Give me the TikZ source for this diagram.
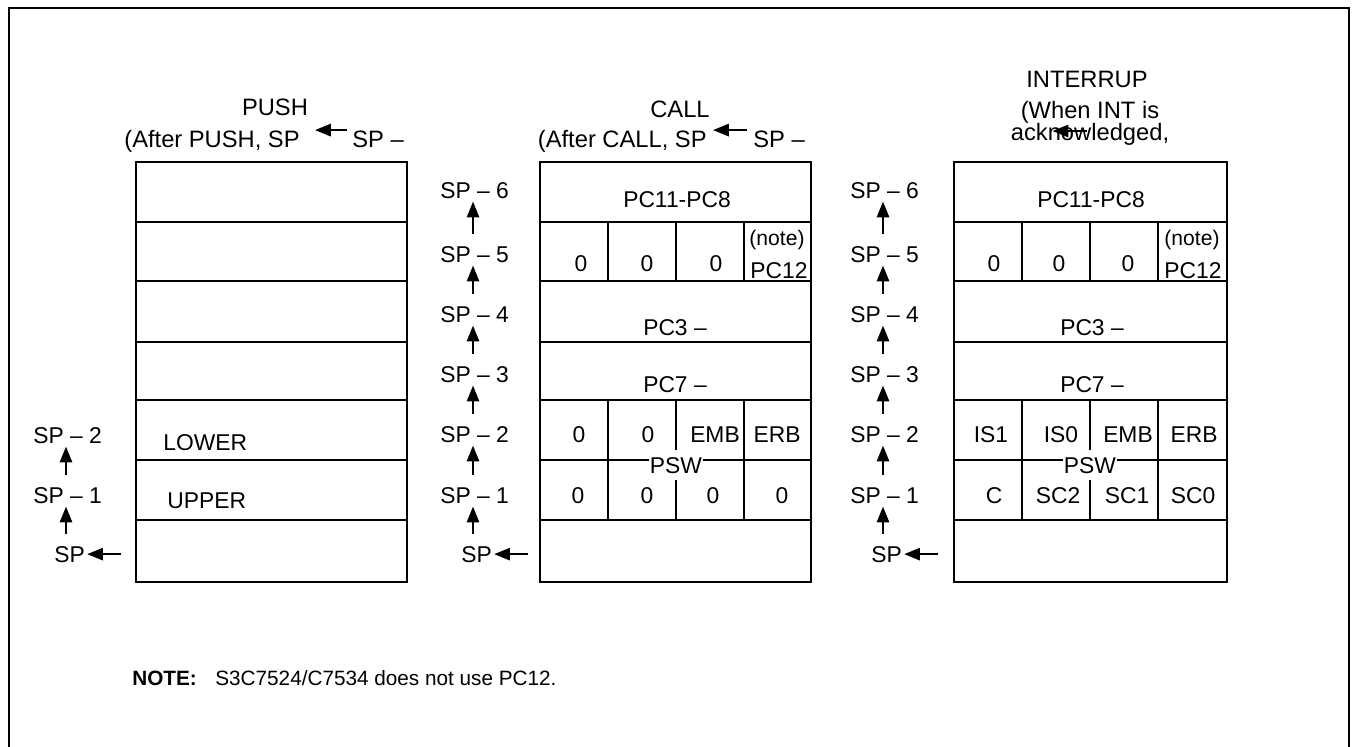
\documentclass[tikz,border=0pt]{standalone}
\usepackage{fontspec}
\setmainfont{Liberation Sans}
\usetikzlibrary{arrows.meta}

\begin{document}
\begin{tikzpicture}[>={Triangle[length=9pt,width=7pt]}, x=0.02cm, y=-0.02cm,
    box/.style={line width=1.1pt},
    sep/.style={line width=0.9pt},
    uparr/.style={->, line width=1.1pt},
    hd/.style={font=\fontsize{13.5}{16}\selectfont, inner sep=0pt, anchor=base},
    splab/.style={font=\fontsize{13}{15}\selectfont, inner sep=0pt, anchor=base west},
    cell/.style={font=\fontsize{13}{15}\selectfont, inner sep=0pt, anchor=base},
    small/.style={font=\fontsize{12}{14}\selectfont, inner sep=0pt, anchor=base},
    psw/.style={font=\fontsize{13}{15}\selectfont, fill=white, inner xsep=0.5pt, inner ysep=4pt, anchor=base}]
    \useasboundingbox (0,0) rectangle (1356,747);
    % Outer frame, open at the bottom
    \draw[box] (9,747) -- (9,8) -- (1349,8) -- (1349,747);

    % PUSH - left stack
    \node[hd] (pushhd) at (275,115) {PUSH};
    \node[hd, anchor=base east] (pusha) at (300,147) {(After PUSH, SP};
    \node[hd, anchor=base west] (pushb) at (352,147) {SP –};
    \draw[uparr] ([shift={(-5,0)}]pushb.north west) -- ([shift={(-37,0)}]pushb.north west);
    \draw[box] (136,162) rectangle (407,582);
    \foreach \y in {222,281,342,400,460,520} \draw[sep] (136,\y) -- (407,\y);
    \node[cell, anchor=base west] (lower) at (163,450) {LOWER};
    \node[cell, anchor=base west] (upper) at (167,508) {UPPER};
    \node[splab] (p2) at (33,443) {SP – 2};
    \node[splab] (p1) at (33,503) {SP – 1};
    \node[splab] (p0) at (54,562) {SP};
    \draw[uparr] ([shift={(12,-12)}]p0.north west) -- ([shift={(33,3)}]p1.south west);
    \draw[uparr] ([shift={(33,-12)}]p1.north west) -- ([shift={(33,3)}]p2.south west);
    \draw[uparr] ([shift={(36,0)}]p0.east) -- ([shift={(2,0)}]p0.east);

    % CALL - middle stack
    \node[hd] (callhd) at (680,117) {CALL};
    \node[hd, anchor=base east] (calla) at (707,147) {(After CALL, SP};
    \node[hd, anchor=base west] (callb) at (753,147) {SP –};
    \draw[uparr] ([shift={(-6,0)}]callb.north west) -- ([shift={(-40,0)}]callb.north west);
    \draw[box] (540,162) rectangle (811,582);
    \foreach \y in {222,281,342,400,460,520} \draw[sep] (540,\y) -- (811,\y);
    \foreach \x in {608,676,744} \draw[sep] (\x,222) -- (\x,281);
    \foreach \x in {608,676,744} \draw[sep] (\x,400) -- (\x,520);
    \foreach \n/\y in {6/198,5/262,4/322,3/382,2/442,1/503} \node[splab] (c\n) at (440,\y) {SP – \n};
    \node[splab] (c0) at (461,562) {SP};
    \foreach \n/\m in {1/2,2/3,3/4,4/5,5/6}
        \draw[uparr] ([shift={(33,-12)}]c\n.north west) -- ([shift={(33,3)}]c\m.south west);
    \draw[uparr] ([shift={(12,-12)}]c0.north west) -- ([shift={(33,3)}]c1.south west);
    \draw[uparr] ([shift={(36,0)}]c0.east) -- ([shift={(2,0)}]c0.east);
    \node[cell] (cpch) at (677,207) {PC11-PC8};
    \node[cell] (cza) at (581,271) {0};
    \node[cell] (czb) at (647,271) {0};
    \node[cell] (czc) at (716,271) {0};
    \node[small] (cnote) at (777,245) {(note)};
    \node[cell] (cpct) at (779,278) {PC12};
    \node[cell] (cpcl) at (675,335) {PC3 –};
    \node[cell] (cpcm) at (675,392) {PC7 –};
    \node[cell] (cha) at (579,442) {0};
    \node[cell] (chb) at (648,442) {0};
    \node[cell] (chc) at (715,442) {EMB};
    \node[cell] (chd) at (777,442) {ERB};
    \node[cell] (cla) at (578,503) {0};
    \node[cell] (clb) at (647,503) {0};
    \node[cell] (clc) at (713,503) {0};
    \node[cell] (cld) at (782,503) {0};
    \node[psw] (cpsw) at (676,473) {PSW};

    % INTERRUPT - right stack
    \node[hd] (inthd) at (1087,87) {INTERRUP};
    \node[hd] (inta) at (1090,118) {(When INT is};
    \node[hd] (intb) at (1090,140) {acknowledged,};
    \draw[uparr] ([shift={(76,-9)}]intb.base west) -- ([shift={(42,-9)}]intb.base west);
    \draw[box] (954,162) rectangle (1227,582);
    \foreach \y in {222,281,342,400,460,520} \draw[sep] (954,\y) -- (1227,\y);
    \foreach \x in {1022,1090,1158} \draw[sep] (\x,222) -- (\x,281);
    \foreach \x in {1022,1090,1158} \draw[sep] (\x,400) -- (\x,520);
    \foreach \n/\y in {6/198,5/262,4/322,3/382,2/442,1/503} \node[splab] (i\n) at (850,\y) {SP – \n};
    \node[splab] (i0) at (871,562) {SP};
    \foreach \n/\m in {1/2,2/3,3/4,4/5,5/6}
        \draw[uparr] ([shift={(33,-12)}]i\n.north west) -- ([shift={(33,3)}]i\m.south west);
    \draw[uparr] ([shift={(12,-12)}]i0.north west) -- ([shift={(33,3)}]i1.south west);
    \draw[uparr] ([shift={(36,0)}]i0.east) -- ([shift={(2,0)}]i0.east);
    \node[cell] (ipch) at (1091,207) {PC11-PC8};
    \node[cell] (iza) at (994,271) {0};
    \node[cell] (izb) at (1059,271) {0};
    \node[cell] (izc) at (1128,271) {0};
    \node[small] (inote) at (1192,245) {(note)};
    \node[cell] (ipct) at (1193,278) {PC12};
    \node[cell] (ipcl) at (1092,335) {PC3 –};
    \node[cell] (ipcm) at (1092,392) {PC7 –};
    \node[cell] (iha) at (991,442) {IS1};
    \node[cell] (ihb) at (1061,442) {IS0};
    \node[cell] (ihc) at (1128,442) {EMB};
    \node[cell] (ihd) at (1194,442) {ERB};
    \node[cell] (ila) at (994,503) {C};
    \node[cell] (ilb) at (1058,503) {SC2};
    \node[cell] (ilc) at (1127,503) {SC1};
    \node[cell] (ild) at (1193,503) {SC0};
    \node[psw] (ipsw) at (1090,473) {PSW};

    % Note line
    \node[font=\bfseries\fontsize{11.8}{14}\selectfont, inner sep=0pt, anchor=base west] (notehd) at (132,685) {NOTE:};
    \node[font=\fontsize{11.8}{14}\selectfont, inner sep=0pt, anchor=base west] (notetx) at (215,685) {S3C7524/C7534 does not use PC12.};
\end{tikzpicture}
\end{document}
